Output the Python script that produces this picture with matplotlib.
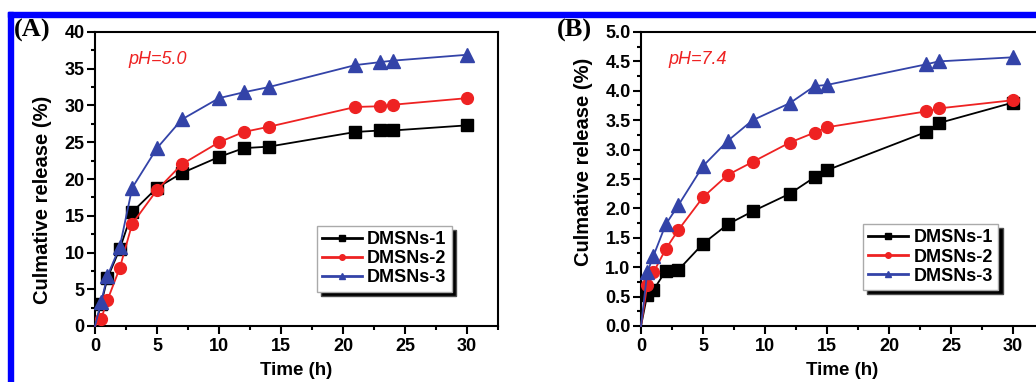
import matplotlib
matplotlib.use("Agg")
import matplotlib.pyplot as plt
from matplotlib.patches import Rectangle
from matplotlib.ticker import MultipleLocator, FormatStrFormatter

# ---------------- data ----------------
time_a = [0, 0.5, 1, 2, 3, 5, 7, 10, 12, 14, 21, 23, 24, 30]
a_dmsn1 = [0, 3.0, 6.5, 10.5, 15.5, 18.8, 20.8, 23.0, 24.2, 24.4, 26.4, 26.6, 26.6, 27.3]
a_dmsn2 = [0, 1.0, 3.5, 7.9, 13.9, 18.5, 22.0, 25.0, 26.4, 27.1, 29.8, 29.9, 30.1, 31.0]
a_dmsn3 = [0, 3.3, 6.8, 10.8, 18.8, 24.2, 28.1, 31.0, 31.8, 32.5, 35.5, 35.9, 36.1, 36.9]

time_b = [0, 0.5, 1, 2, 3, 5, 7, 9, 12, 14, 15, 23, 24, 30]
b_dmsn1 = [0, 0.53, 0.61, 0.94, 0.95, 1.40, 1.73, 1.95, 2.25, 2.53, 2.65, 3.30, 3.45, 3.80]
b_dmsn2 = [0, 0.69, 0.91, 1.31, 1.63, 2.19, 2.57, 2.79, 3.12, 3.29, 3.38, 3.65, 3.70, 3.84]
b_dmsn3 = [0, 0.91, 1.19, 1.73, 2.05, 2.72, 3.15, 3.50, 3.79, 4.08, 4.10, 4.45, 4.50, 4.57]

labels = ["DMSNs-1", "DMSNs-2", "DMSNs-3"]
colors = ["black", "#ee2222", "#3343a8"]
markers = ["s", "o", "^"]

W, H = 1036, 382
fig = plt.figure(figsize=(W / 100, H / 100), dpi=100)
plt.rcParams['font.family'] = ['Liberation Sans', 'DejaVu Sans']

# blue frame decoration
fig.patches.append(Rectangle((8 / W, 1 - 16.5 / H), 1, 4.5 / H, transform=fig.transFigure,
                             color="#0000ff", zorder=0))
fig.patches.append(Rectangle((8 / W, 0), 4.5 / W, 1 - 12 / H, transform=fig.transFigure,
                             color="#0000ff", zorder=0))


def make_panel(left_px, time, series, ylim, ymaj, ymin, yfmt, ph_text, ph_x, panel, panel_x,
               leg_x, leg_y, ylab_x, ylab_y):
    ax = fig.add_axes([left_px / W, 1 - 326 / H, 403 / W, 294 / H])
    for vals, lab, c, m in zip(series, labels, colors, markers):
        ms = 9.5 if m == "^" else (8.5 if m == "o" else 8)
        ax.plot(time, vals, color=c, marker=m, markersize=ms, linewidth=1.3, label=lab,
                markevery=slice(1, None), clip_on=False, zorder=3)
    ax.set_xlim(0, 32.5)
    ax.set_ylim(*ylim)
    ax.xaxis.set_major_locator(MultipleLocator(5))
    ax.xaxis.set_minor_locator(MultipleLocator(2.5))
    ax.yaxis.set_major_locator(MultipleLocator(ymaj))
    ax.yaxis.set_minor_locator(MultipleLocator(ymin))
    ax.yaxis.set_major_formatter(FormatStrFormatter(yfmt))
    ax.tick_params(which="both", direction="out", top=False, right=False, width=1.5,
                   labelsize=13)
    ax.tick_params(axis="x", pad=3)
    ax.tick_params(axis="y", pad=2)
    ax.tick_params(which="major", length=5.5)
    ax.tick_params(which="minor", length=3)
    for lbl in ax.get_xticklabels() + ax.get_yticklabels():
        lbl.set_fontweight("bold")
    for sp in ax.spines.values():
        sp.set_linewidth(1.5)
    ax.set_xlabel("Time (h)", fontsize=13.5, fontweight="bold", labelpad=5)
    ax.set_ylabel("Culmative release (%)", fontsize=14.5, fontweight="bold")
    ax.yaxis.set_label_coords(ylab_x, ylab_y)
    ax.text(ph_x, 0.905, ph_text, transform=ax.transAxes, color="#ee2222",
            fontsize=13, style="italic", va="center", ha="left")
    fig.text(panel_x / W, 1 - 19 / H, panel, fontsize=19, fontweight="bold",
             family=["Liberation Serif", "DejaVu Serif"], va="top", ha="left")
    handles = []
    for c, m, lab in zip(colors, markers, labels):
        h, = ax.plot([], [], color=c, marker=m, markersize=4, linewidth=2, label=lab)
        handles.append(h)
    leg = ax.legend(handles=handles, loc="lower left", bbox_to_anchor=(leg_x, leg_y),
                    borderaxespad=0, fancybox=False, frameon=True, handlelength=2.2,
                    handletextpad=0.3, labelspacing=0.12, borderpad=0.3,
                    prop={"weight": "bold", "size": 13},
                    shadow={"ox": 3, "oy": -3, "facecolor": "black", "alpha": 1})
    leg.get_frame().set_edgecolor("#aaaaaa")
    leg.get_frame().set_linewidth(1.0)
    return ax


make_panel(95, time_a, [a_dmsn1, a_dmsn2, a_dmsn3], (0, 40), 5, 2.5, "%d",
           "pH=5.0", 0.082, "(A)", 14, 0.55, 0.116, -0.107, 0.43)
make_panel(641, time_b, [b_dmsn1, b_dmsn2, b_dmsn3], (0, 5.0), 0.5, 0.25, "%.1f",
           "pH=7.4", 0.067, "(B)", 557, 0.551, 0.122, -0.119, 0.558)

fig.savefig("out.png", dpi=100)
